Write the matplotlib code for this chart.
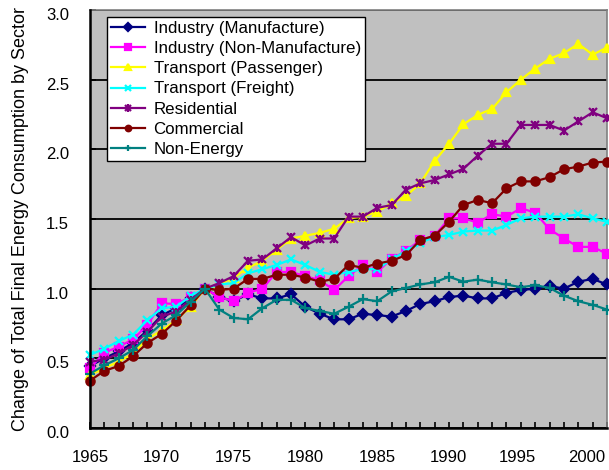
import matplotlib
matplotlib.use("Agg")
import matplotlib.pyplot as plt
from matplotlib.legend_handler import HandlerTuple
from matplotlib.transforms import ScaledTranslation
import numpy as np

plt.rcParams['font.family'] = ['Liberation Sans', 'DejaVu Sans']

years = list(range(1965, 2002))

ind_manuf = [0.445, 0.50, 0.55, 0.61, 0.70, 0.81, 0.86, 0.93, 1.00,
             0.94, 0.91, 0.96, 0.93, 0.93, 0.96, 0.87, 0.82, 0.78, 0.78,
             0.82, 0.81, 0.80, 0.84, 0.89, 0.91, 0.94, 0.95, 0.93, 0.93,
             0.97, 0.99, 1.00, 1.02, 1.00, 1.05, 1.07, 1.03]
ind_nonmanuf = [0.43, 0.54, 0.584, 0.636, 0.74, 0.895, 0.89, 0.94, 1.00,
                0.94, 0.91, 0.97, 1.00, 1.12, 1.12, 1.09, 1.06, 0.99, 1.09,
                1.17, 1.12, 1.215, 1.27, 1.35, 1.38, 1.505, 1.505, 1.474, 1.534,
                1.517, 1.577, 1.546, 1.426, 1.36, 1.30, 1.30, 1.25]
trans_pass = [0.38, 0.43, 0.476, 0.535, 0.64, 0.70, 0.775, 0.87, 1.00,
              1.03, 1.08, 1.15, 1.20, 1.28, 1.36, 1.38, 1.40, 1.43, 1.505,
              1.517, 1.553, 1.613, 1.665, 1.756, 1.917, 2.04, 2.18, 2.247, 2.29,
              2.41, 2.50, 2.58, 2.65, 2.69, 2.757, 2.68, 2.73]
trans_freight = [0.524, 0.57, 0.624, 0.67, 0.775, 0.86, 0.87, 0.947, 1.00,
                 1.03, 1.04, 1.11, 1.14, 1.17, 1.21, 1.17, 1.12, 1.10, 1.12,
                 1.14, 1.14, 1.21, 1.27, 1.33, 1.37, 1.385, 1.41, 1.417, 1.417,
                 1.457, 1.505, 1.517, 1.517, 1.517, 1.534, 1.505, 1.48]
residential = [0.476, 0.49, 0.535, 0.595, 0.69, 0.80, 0.835, 0.92, 1.00,
               1.04, 1.09, 1.20, 1.21, 1.29, 1.37, 1.31, 1.36, 1.36, 1.517,
               1.517, 1.58, 1.60, 1.71, 1.756, 1.78, 1.82, 1.86, 1.955, 2.04,
               2.04, 2.175, 2.175, 2.175, 2.135, 2.20, 2.266, 2.223]
commercial = [0.34, 0.41, 0.445, 0.515, 0.61, 0.675, 0.77, 0.88, 1.00,
              0.99, 1.00, 1.07, 1.07, 1.10, 1.10, 1.08, 1.05, 1.07, 1.17,
              1.15, 1.18, 1.20, 1.24, 1.35, 1.38, 1.48, 1.60, 1.637, 1.613,
              1.72, 1.77, 1.77, 1.80, 1.857, 1.876, 1.905, 1.912]
non_energy = [0.39, 0.45, 0.50, 0.56, 0.66, 0.75, 0.81, 0.906, 1.00,
              0.85, 0.79, 0.78, 0.86, 0.92, 0.92, 0.86, 0.84, 0.82, 0.87,
              0.925, 0.91, 0.98, 1.005, 1.03, 1.046, 1.085, 1.05, 1.065, 1.046,
              1.03, 1.01, 1.025, 1.005, 0.95, 0.91, 0.884, 0.85]

labels = ["Industry (Manufacture)", "Industry (Non-Manufacture)",
          "Transport (Passenger)", "Transport (Freight)", "Residential",
          "Commercial", "Non-Energy"]
series = [ind_manuf, ind_nonmanuf, trans_pass, trans_freight,
          residential, commercial, non_energy]
colors = ["#000080", "#FF00FF", "#FFFF00", "#00FFFF", "#800080", "#800000", "#008080"]
markers = ["D", "s", "^", "x", "x", "o", "+"]
msizes = [5, 6, 6, 6, 6, 6, 7]

fig = plt.figure(figsize=(6.09, 4.70), dpi=100)
ax = fig.add_axes([90/609, 1-428/470, 517/609, 418/470])
ax.set_facecolor("#C0C0C0")

handles = []
for vals, lab, c, m, ms in zip(series, labels, colors, markers, msizes):
    ln, = ax.plot(years, vals, color=c, lw=1.6, marker=m, ms=ms,
                  mec=c, mfc=c, mew=1.6, clip_on=False, zorder=3)
    if lab == "Residential":
        ln2, = ax.plot(years, vals, ls='none', marker='|', ms=6, color=c,
                       mew=1.6, clip_on=False, zorder=3)
        handles.append((ln, ln2))
    else:
        handles.append(ln)

ax.set_xlim(1965, 2001)
ax.set_ylim(0, 3.0)
ax.set_yticks(np.arange(0, 3.01, 0.5))
ax.set_yticklabels([f"{v:.1f}" for v in np.arange(0, 3.01, 0.5)])
ax.set_xticks(range(1965, 2001, 5))
ax.set_xticks(range(1965, 2002), minor=True)
ax.tick_params(axis='x', which='both', direction='in', length=4.5, width=1.2,
               pad=16, labelsize=12)
ax.tick_params(axis='y', which='both', direction='in', length=4, width=1.2,
               pad=15, labelsize=12)
off = ScaledTranslation(0, -4/100, fig.dpi_scale_trans)
for t in ax.get_yticklabels():
    t.set_transform(t.get_transform() + off)
xshifts = [0, 0, 0, 0, 0, -1, -3, -6]
for t, dx in zip(ax.get_xticklabels(), xshifts):
    t.set_transform(t.get_transform() + ScaledTranslation(dx/100, 0, fig.dpi_scale_trans))
ax.grid(axis='y', color='black', lw=1.3, zorder=1)
ax.set_axisbelow(True)
for s in ['left', 'bottom']:
    ax.spines[s].set_color('black')
    ax.spines[s].set_linewidth(1.8)
    ax.spines[s].set_zorder(4)
for s in ['top', 'right']:
    ax.spines[s].set_color('#808080')
    ax.spines[s].set_linewidth(1.2)

ax.set_ylabel("Change of Total Final Energy Consumption by Sector", fontsize=13,
              labelpad=12)

leg = ax.legend(handles, labels, loc='upper left',
                bbox_to_anchor=(107/609, 1-17/470), bbox_transform=fig.transFigure,
                borderaxespad=0, fontsize=12.2, frameon=True, fancybox=False,
                framealpha=1, edgecolor='black', handlelength=2.0,
                handletextpad=0.5, labelspacing=0.3, borderpad=0.25,
                handler_map={tuple: HandlerTuple(ndivide=1)})
leg.get_frame().set_linewidth(1.0)
for h in leg.legend_handles:
    try:
        h.set_markersize(4)
    except Exception:
        pass
leg.set_zorder(5)

fig.savefig("out.png", dpi=100)
